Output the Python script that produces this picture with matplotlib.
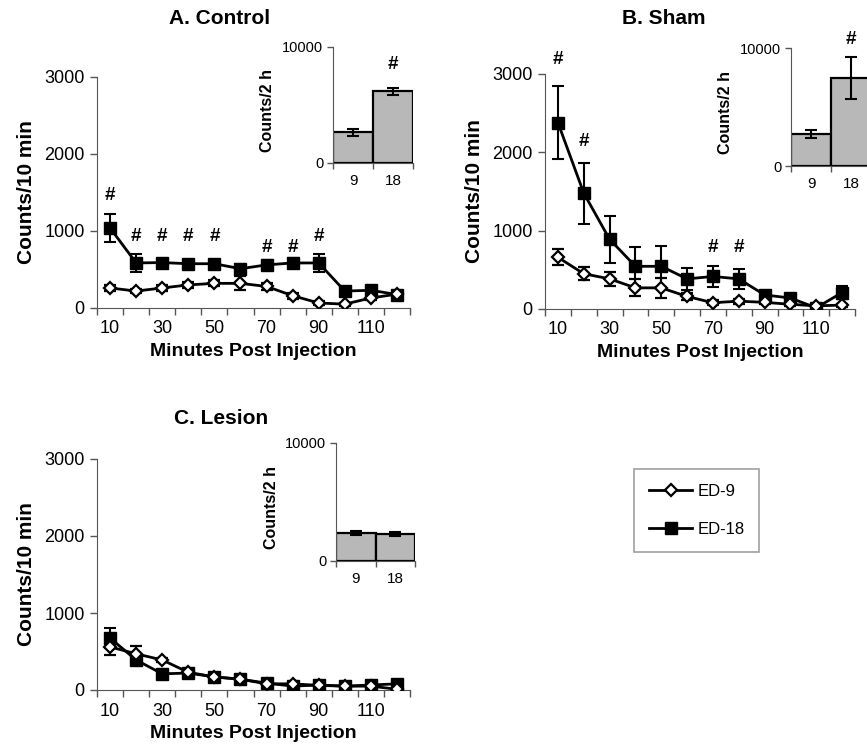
import numpy as np
import matplotlib
matplotlib.use('Agg')
import matplotlib.pyplot as plt
from matplotlib.lines import Line2D

plt.rcParams['font.family'] = ['Liberation Sans', 'DejaVu Sans']

# minutes post injection (one point per 10 min bin)
minutes = [10, 20, 30, 40, 50, 60, 70, 80, 90, 100, 110, 120]
xtick_labels = ['10', '30', '50', '70', '90', '110']
groups = ['9', '18']

# A. Control
ctrl_ed9 = [260, 220, 260, 300, 320, 320, 280, 160, 65, 50, 130, 180]
ctrl_ed9_err = [40, 30, 40, 40, 40, 90, 45, 40, 30, 20, 20, 20]
ctrl_ed18 = [1040, 585, 590, 575, 575, 510, 560, 585, 585, 220, 230, 175]
ctrl_ed18_err = [180, 115, 50, 50, 50, 65, 60, 60, 120, 40, 40, 40]
ctrl_bars = [2670, 6200]
ctrl_bars_err = [300, 300]
ctrl_hash = [(10, 1455), (20, 935), (30, 935), (40, 935), (50, 935),
             (70, 780), (80, 780), (90, 935)]

# B. Sham
sham_ed9 = [660, 450, 385, 270, 270, 160, 80, 100, 85, 60, 40, 50]
sham_ed9_err = [100, 80, 90, 110, 130, 50, 30, 30, 20, 20, 20, 20]
sham_ed18 = [2380, 1480, 890, 545, 545, 385, 415, 385, 180, 140, 15, 210]
sham_ed18_err = [470, 390, 300, 250, 260, 140, 140, 130, 40, 40, 30, 80]
sham_bars = [2710, 7460]
sham_bars_err = [300, 1750]
sham_hash = [(10, 3190), (20, 2135), (70, 785), (80, 785)]

# C. Lesion
les_ed9 = [560, 470, 390, 230, 170, 140, 80, 80, 60, 50, 50, 10]
les_ed9_err = [100, 100, 30, 30, 20, 20, 20, 20, 20, 20, 20, 20]
les_ed18 = [675, 390, 210, 220, 170, 140, 90, 50, 65, 50, 65, 80]
les_ed18_err = [130, 40, 30, 30, 20, 20, 20, 20, 20, 20, 20, 20]
les_bars = [2370, 2290]
les_bars_err = [150, 150]

W, H = 867, 752
fig = plt.figure(figsize=(W / 100, H / 100), dpi=100)

spine_col = '#555555'


def px_rect(left, right, bottom, top):
    return [left / W, 1 - bottom / H, (right - left) / W, (bottom - top) / H]


def main_panel(rect, ed9, ed9_err, ed18, ed18_err, hashes):
    ax = fig.add_axes(rect)
    ax.errorbar(minutes, ed18, yerr=ed18_err, color='black', lw=2,
                marker='s', ms=9, mfc='black', mec='black',
                elinewidth=1.5, capsize=4, capthick=1.5, zorder=3)
    ax.errorbar(minutes, ed9, yerr=ed9_err, color='black', lw=2,
                marker='D', ms=6, mfc='white', mec='black', mew=1.6,
                elinewidth=1.5, capsize=4, capthick=1.5, zorder=4)
    for x, y in hashes:
        ax.text(x, y, '#', ha='center', va='center', fontsize=13.5,
                fontweight='bold')
    ax.set_xlim(5, 125)
    ax.set_ylim(0, 3000)
    ax.set_yticks([0, 1000, 2000, 3000])
    ax.set_xticks([10, 30, 50, 70, 90, 110])
    ax.set_xticklabels(xtick_labels)
    ax.set_xticks(np.arange(5, 126, 10), minor=True)
    ax.tick_params(axis='x', which='major', length=0, pad=9, labelsize=13)
    ax.tick_params(axis='x', which='minor', length=5, width=1, color=spine_col)
    ax.tick_params(axis='y', length=5, width=1, color=spine_col, pad=4,
                   labelsize=13)
    for s in ['top', 'right']:
        ax.spines[s].set_visible(False)
    for s in ['left', 'bottom']:
        ax.spines[s].set_color(spine_col)
    ax.set_xlabel('Minutes Post Injection', fontsize=14, fontweight='bold',
                  labelpad=4)
    ax.set_ylabel('Counts/10 min', fontsize=15, fontweight='bold',
                  labelpad=6)
    return ax


def inset_panel(rect, bars, bars_err, hash_y=None):
    ax = fig.add_axes(rect)
    ax.bar([0, 1], bars, width=1.0, color='#b8b8b8', edgecolor='black',
           linewidth=1.6)
    ax.errorbar([0, 1], bars, yerr=bars_err, fmt='none', ecolor='black',
                elinewidth=1.5, capsize=4, capthick=1.5)
    if hash_y is not None:
        ax.text(1, hash_y, '#', ha='center', va='center', fontsize=13.5,
                fontweight='bold', clip_on=False)
    ax.set_xlim(-0.5, 1.5)
    ax.set_ylim(0, 10000)
    ax.set_yticks([0, 10000])
    ax.set_xticks([0, 1])
    ax.set_xticklabels(groups)
    ax.set_xticks([-0.5, 0.5, 1.5], minor=True)
    ax.tick_params(axis='x', which='major', length=0, pad=8, labelsize=11)
    ax.tick_params(axis='x', which='minor', length=4, width=1, color=spine_col)
    ax.tick_params(axis='y', length=4, width=1, color=spine_col, pad=3,
                   labelsize=10.5)
    for s in ['top', 'right']:
        ax.spines[s].set_visible(False)
    for s in ['left', 'bottom']:
        ax.spines[s].set_color(spine_col)
    ax.set_ylabel('Counts/2 h', fontsize=11.5, fontweight='bold')
    ax.yaxis.set_label_coords(-0.72, 0.45)
    return ax


main_panel(px_rect(97, 410, 308, 77), ctrl_ed9, ctrl_ed9_err,
           ctrl_ed18, ctrl_ed18_err, ctrl_hash)
inset_panel(px_rect(333, 413, 163, 47), ctrl_bars, ctrl_bars_err, 8500)

main_panel(px_rect(545, 855, 309, 74), sham_ed9, sham_ed9_err,
           sham_ed18, sham_ed18_err, sham_hash)
inset_panel(px_rect(791, 871, 166, 48), sham_bars, sham_bars_err, 10700)

main_panel(px_rect(97, 410, 690, 459), les_ed9, les_ed9_err,
           les_ed18, les_ed18_err, [])
inset_panel(px_rect(336, 415, 561, 443), les_bars, les_bars_err)

fig.text(220 / W, 1 - 19 / H, 'A. Control', ha='center', va='center',
         fontsize=15, fontweight='bold')
fig.text(664 / W, 1 - 19 / H, 'B. Sham', ha='center', va='center',
         fontsize=15, fontweight='bold')
fig.text(221 / W, 1 - 418 / H, 'C. Lesion', ha='center', va='center',
         fontsize=15, fontweight='bold')

handles = [
    Line2D([], [], color='black', lw=2, marker='D', ms=6, mfc='white',
           mec='black', mew=1.6),
    Line2D([], [], color='black', lw=2, marker='s', ms=9, mfc='black',
           mec='black'),
]
leg = fig.legend(handles, ['ED-9', 'ED-18'], loc='upper left',
                 bbox_to_anchor=(634 / W, 1 - 469 / H), fontsize=12,
                 frameon=True, fancybox=False, edgecolor='#888888',
                 handlelength=2.6, handletextpad=0.3, labelspacing=1.4,
                 borderpad=0.9, borderaxespad=0)
leg.get_frame().set_linewidth(1.2)

plt.savefig('out.png', dpi=100)
plt.close()
